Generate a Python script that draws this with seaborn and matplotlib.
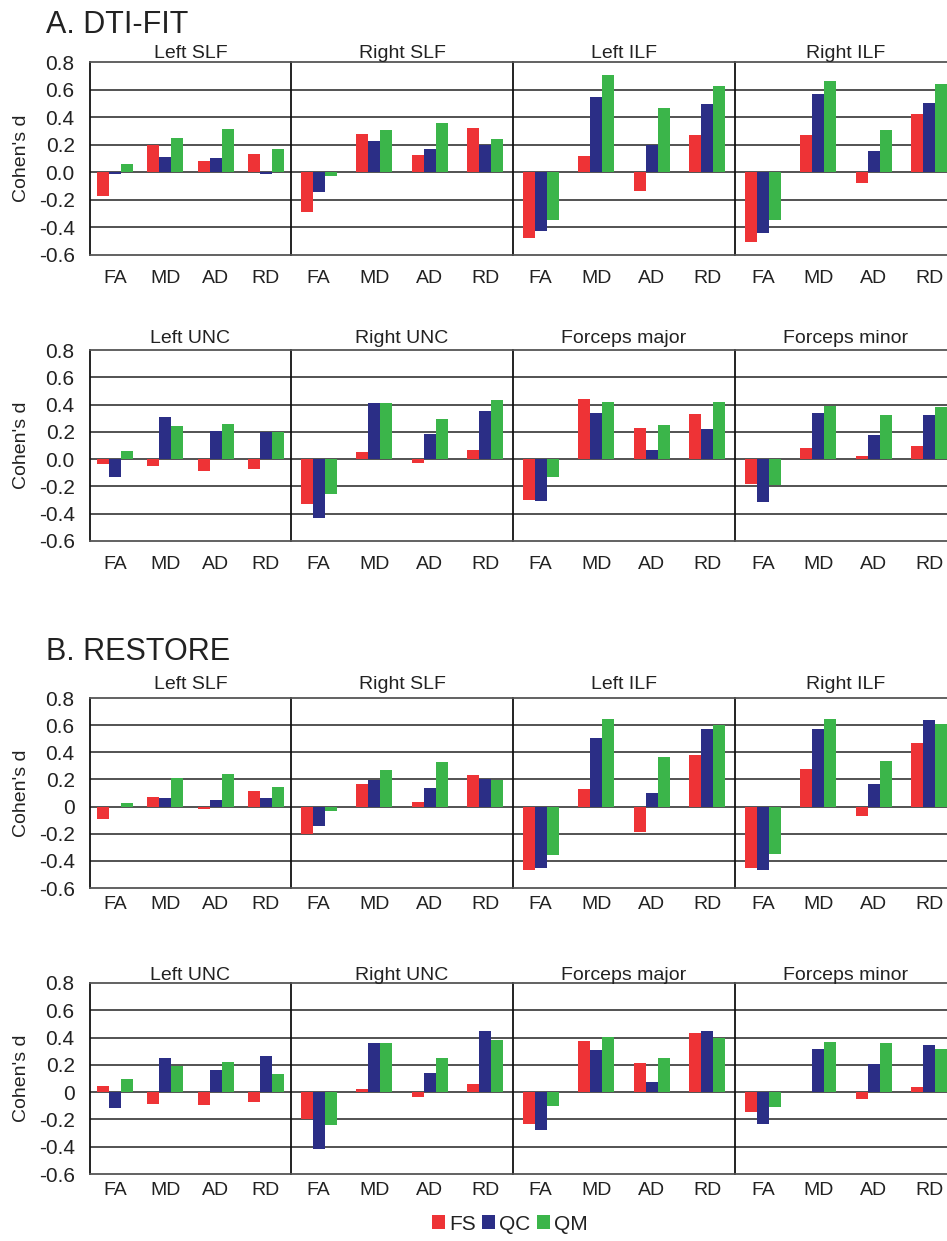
import numpy as np
import pandas as pd
import seaborn as sns
import matplotlib.pyplot as plt
from matplotlib.patches import Patch

sns.set_style("white")
plt.rcParams["font.family"] = ["Liberation Sans", "DejaVu Sans"]
plt.rcParams["axes.unicode_minus"] = False
plt.rcParams["text.color"] = "#222222"

tracts = ["Left SLF", "Right SLF", "Left ILF", "Right ILF",
          "Left UNC", "Right UNC", "Forceps major", "Forceps minor"]
metrics = ["FA", "MD", "AD", "RD"]
groups = ["FS", "QC", "QM"]
colors = ["#ee3336", "#2b2e86", "#3bb54a"]

# Cohen's d per tract, metrics in order FA, MD, AD, RD
dtifit_fs = [-0.175, 0.20, 0.084, 0.136,   -0.286, 0.28, 0.128, 0.318,
             -0.474, 0.116, -0.133, 0.274,  -0.509, 0.274, -0.077, 0.42,
             -0.037, -0.052, -0.086, -0.071, -0.327, 0.056, -0.03, 0.069,
             -0.30, 0.44, 0.226, 0.33,      -0.184, 0.084, 0.022, 0.098]
dtifit_qc = [-0.01, 0.11, 0.10, -0.01,     -0.14, 0.225, 0.17, 0.20,
             -0.427, 0.546, 0.20, 0.496,    -0.44, 0.57, 0.156, 0.50,
             -0.13, 0.307, 0.209, 0.20,     -0.43, 0.41, 0.184, 0.354,
             -0.31, 0.34, 0.069, 0.22,      -0.315, 0.337, 0.18, 0.327]
dtifit_qm = [0.057, 0.25, 0.316, 0.17,     -0.027, 0.306, 0.36, 0.242,
             -0.348, 0.706, 0.467, 0.627,   -0.343, 0.66, 0.304, 0.64,
             0.061, 0.243, 0.26, 0.197,     -0.253, 0.41, 0.295, 0.435,
             -0.133, 0.42, 0.248, 0.42,     -0.187, 0.388, 0.327, 0.38]

restore_fs = [-0.093, 0.071, -0.02, 0.113,  -0.199, 0.167, 0.032, 0.23,
              -0.471, 0.13, -0.187, 0.38,   -0.449, 0.28, -0.071, 0.471,
              0.047, -0.084, -0.096, -0.069, -0.198, 0.025, -0.037, 0.059,
              -0.235, 0.378, 0.21, 0.435,   -0.143, 0.003, -0.049, 0.037]
restore_qc = [-0.005, 0.064, 0.049, 0.064,  -0.145, 0.196, 0.14, 0.206,
              -0.452, 0.506, 0.10, 0.569,   -0.464, 0.574, 0.164, 0.638,
              -0.114, 0.249, 0.165, 0.264,  -0.417, 0.358, 0.143, 0.449,
              -0.279, 0.311, 0.072, 0.449,  -0.237, 0.319, 0.207, 0.348]
restore_qm = [0.027, 0.211, 0.238, 0.142,   -0.032, 0.27, 0.326, 0.199,
              -0.356, 0.648, 0.368, 0.599,  -0.346, 0.648, 0.339, 0.611,
              0.099, 0.19, 0.222, 0.131,    -0.244, 0.358, 0.249, 0.38,
              -0.101, 0.405, 0.252, 0.395,  -0.106, 0.37, 0.36, 0.319]

ytick_vals = [0.8, 0.6, 0.4, 0.2, 0.0, -0.2, -0.4, -0.6]
ytick_a = ["0.8", "0.6", "0.4", "0.2", "0.0", "-0.2", "-0.4", "-0.6"]
ytick_b = ["0.8", "0.6", "0.4", "0.2", "0", "-0.2", "-0.4", "-0.6"]

rows = []
for method, series in [("DTI-FIT", [dtifit_fs, dtifit_qc, dtifit_qm]),
                       ("RESTORE", [restore_fs, restore_qc, restore_qm])]:
    for g, vals in zip(groups, series):
        for i, v in enumerate(vals):
            rows.append({"method": method, "tract": tracts[i // 4],
                         "metric": metrics[i % 4], "group": g, "d": v})
df = pd.DataFrame(rows)

W, H = 947, 1241
fig = plt.figure(figsize=(W / 100, H / 100), dpi=100)

# pixel layout of the four panel rows
row_y = [(62, 255), (350, 541), (698, 888), (983, 1174)]
title_pad = [3, 5, 6.5, 2.5]
xlabel_pad = [11, 11, 6, 6]
col_x = [90, 291, 513, 735]
col_w = [201, 222, 222, 222]

for r, (yt, yb) in enumerate(row_y):
    method = "DTI-FIT" if r < 2 else "RESTORE"
    for c in range(4):
        tract = tracts[(r % 2) * 4 + c]
        ax = fig.add_axes([col_x[c] / W, 1 - yb / H, col_w[c] / W, (yb - yt) / H])
        sub = df[(df["method"] == method) & (df["tract"] == tract)]
        sns.barplot(data=sub, x="metric", y="d", hue="group", order=metrics,
                    hue_order=groups, palette=colors, saturation=1, errorbar=None,
                    width=36 / (col_w[c] / 4), linewidth=0, legend=False, ax=ax)
        ax.set_xlim(-0.5, 3.5)
        ax.set_ylim(-0.6, 0.8)
        for yv in [-0.4, -0.2, 0.0, 0.2, 0.4, 0.6]:
            ax.axhline(yv, color="#444444", lw=1.3, zorder=0.5)
        ax.set_xlabel("")
        ax.set_ylabel("")
        ax.set_title(tract, fontsize=14, pad=title_pad[r], color="#222222")
        ax.tick_params(axis="both", length=0)
        ax.tick_params(axis="x", labelsize=14, pad=xlabel_pad[r], labelcolor="#222222")
        ax.set_yticks(ytick_vals)
        if c == 0:
            ax.set_yticklabels(ytick_a if r < 2 else ytick_b, fontsize=15,
                               color="#222222")
            ax.tick_params(axis="y", pad=11)
        else:
            ax.set_yticklabels([])
        ax.spines["left"].set_color("#111111")
        ax.spines["left"].set_linewidth(1.3)
        for s in ["top", "bottom"]:
            ax.spines[s].set_color("#555555")
            ax.spines[s].set_linewidth(1.3)
        ax.spines["right"].set_visible(False)
    fig.text(22 / W, 1 - ((yt + yb) / 2) / H, "Cohen's d", rotation=90,
             ha="center", va="center", fontsize=14)

fig.text(46 / W, 1 - 33 / H, "A. DTI-FIT", fontsize=22, va="baseline")
fig.text(46 / W, 1 - 660 / H, "B. RESTORE", fontsize=22, va="baseline")

handles = [Patch(facecolor=col, edgecolor="none", label=g) for g, col in zip(groups, colors)]
fig.legend(handles=handles, loc="center", bbox_to_anchor=(510 / W, 1 - 1224 / H),
           ncol=3, frameon=False, fontsize=15, handlelength=0.62, handleheight=0.62,
           handletextpad=0.2, columnspacing=0.3)

fig.savefig("out.png", dpi=100)
plt.close(fig)
